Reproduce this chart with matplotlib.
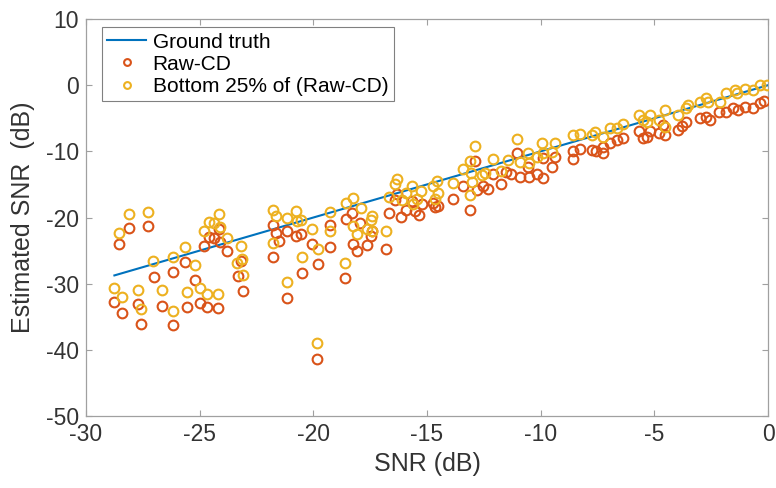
import matplotlib
matplotlib.use("Agg")
import matplotlib.pyplot as plt

# Ground truth line endpoints (y = x)
truth_snr = [-28.75, 0.0]
truth_est = [-28.75, 0.0]

# Raw-CD estimates
raw_snr = [
    -28.55, -28.1, -27.26, -27.0, -26.16, -25.64, -25.2, -24.8, -24.57, -24.37,
    -24.13, -24.1, -23.81, -23.3, -23.08, -23.2, -28.77, -28.43, -27.7, -27.6,
    -26.67, -26.16, -25.54, -24.98, -24.66, -24.18,
    -21.79, -21.64, -21.5, -21.17, -20.76, -20.55, -21.79, -20.07, -19.78, -20.51,
    -21.17, -19.82, -19.27, -19.27, -18.58, -18.31, -17.95, -18.27, -18.06, -18.6,
    -17.43, -17.46, -17.63, -16.82, -16.66, -16.41, -16.3, -16.16, -15.92, -15.67,
    -15.53, -15.34, -15.23, -14.75, -14.65, -14.5, -13.87,
    -12.89, -13.4, -13.1, -12.78, -12.55, -12.3, -12.08, -11.76, -11.52, -11.32,
    -11.03, -10.91, -10.5, -10.54, -10.15, -9.88, -9.91, -9.51, -9.37, -8.59,
    -8.56, -8.27, -7.75, -7.56, -7.27,
    -7.24, -6.95, -6.65, -6.39, -5.66, -5.48, -5.31, -5.19, -4.78, -4.53,
    -4.6, -3.94, -3.79, -3.6, -2.99, -2.72, -2.55, -2.14, -1.84, -1.52,
    -1.3, -1.01, -0.67, -0.35, -0.17,
]
raw_est = [
    -24.05, -21.6, -21.3, -29.0, -28.3, -26.7, -29.4, -24.3, -22.9, -23.1,
    -21.8, -23.65, -25.0, -28.8, -31.06, -26.6, -32.7, -34.5, -33.0, -36.1,
    -33.3, -36.3, -33.5, -32.9, -33.5, -33.7,
    -21.1, -22.3, -23.5, -22.1, -22.8, -22.5, -25.9, -24.0, -27.0, -28.4,
    -32.1, -41.4, -21.1, -24.5, -20.2, -19.3, -20.9, -24.0, -25.0, -29.2,
    -22.0, -22.8, -24.2, -24.8, -19.3, -17.35, -16.5, -19.9, -18.87, -17.5,
    -18.97, -19.6, -17.96, -17.76, -18.36, -18.26, -17.25,
    -11.4, -15.2, -18.8, -15.8, -15.2, -15.7, -13.4, -14.9, -13.1, -13.4,
    -10.3, -13.8, -13.9, -12.4, -13.4, -14.1, -11.05, -12.3, -10.9, -11.2,
    -9.9, -9.7, -9.8, -9.9, -10.3,
    -9.3, -8.7, -8.3, -8.0, -6.9, -8.0, -7.8, -6.9, -7.3, -7.5,
    -6.0, -6.8, -6.2, -5.5, -5.0, -4.8, -5.3, -4.0, -4.0, -3.5,
    -3.75, -3.25, -3.5, -2.75, -2.4,
]

# Bottom 25% of (Raw-CD) estimates
bot_snr = [
    -28.1, -27.26, -28.55, -27.04, -26.16, -25.64, -25.2, -28.77, -28.43, -27.7,
    -27.6, -26.67, -26.16, -25.54, -24.98, -24.66, -24.18, -24.8, -24.57, -24.37,
    -24.13, -24.1, -23.81, -23.37, -23.15, -23.2, -23.08,
    -21.76, -21.64, -21.17, -20.76, -20.55, -20.73, -21.79, -20.07, -19.78, -20.51,
    -21.14, -19.82, -19.27, -19.27, -18.58, -18.27, -17.92, -18.24, -18.06, -18.6,
    -17.43, -17.48, -17.63, -17.43, -16.82, -16.66, -16.41, -16.3, -16.11, -15.92,
    -15.67, -15.45, -15.28, -15.6, -14.72, -14.57, -14.5, -13.87, -14.65,
    -12.89, -13.1, -13.4, -13.08, -13.03, -13.1, -12.59, -12.45, -12.08, -11.76,
    -11.42, -11.03, -10.91, -10.54, -10.5, -10.17, -9.95, -9.88, -9.51, -9.37,
    -8.56, -8.27, -7.75, -7.61,
    -7.27, -6.95, -6.65, -6.39, -5.66, -5.48, -5.31, -5.19, -4.78, -4.53,
    -4.53, -3.94, -3.6, -3.5, -2.99, -2.72, -2.62, -2.11, -1.84, -1.45,
    -1.35, -1.01, -0.67, -0.35, -0.05,
]
bot_est = [
    -19.4, -19.1, -22.3, -26.6, -25.9, -24.4, -27.1, -30.6, -32.0, -30.9,
    -33.9, -31.0, -34.1, -31.2, -30.6, -31.5, -31.6, -22.1, -20.7, -20.9,
    -19.5, -21.5, -23.1, -26.8, -26.3, -24.3, -28.7,
    -18.87, -19.8, -20.1, -18.97, -20.3, -20.6, -23.9, -21.8, -24.8, -25.9,
    -29.7, -38.9, -19.1, -22.1, -17.86, -17.1, -18.5, -21.3, -22.5, -26.8,
    -19.8, -20.4, -21.8, -22.0, -22.1, -16.85, -14.98, -14.2, -17.35, -16.35,
    -15.3, -17.25, -15.95, -17.9, -15.3, -14.5, -16.35, -14.8, -17.25,
    -9.2, -11.4, -12.7, -13.2, -14.6, -16.6, -13.6, -13.2, -11.2, -12.9,
    -11.3, -8.2, -11.6, -10.2, -11.7, -10.9, -8.7, -10.3, -10.05, -8.7,
    -7.5, -7.4, -7.5, -7.0,
    -7.8, -6.4, -6.4, -5.8, -4.5, -5.3, -5.5, -4.5, -5.3, -6.3,
    -3.75, -4.5, -3.5, -3.0, -2.5, -2.0, -2.5, -2.5, -1.2, -0.7,
    -1.2, -0.5, -0.7, 0.0, 0.1,
]

xticks = [-30, -25, -20, -15, -10, -5, 0]
yticks = [-50, -40, -30, -20, -10, 0, 10]

plt.rcParams["font.family"] = ["Liberation Sans", "DejaVu Sans"]
plt.rcParams["axes.unicode_minus"] = False

fig = plt.figure(figsize=(7.76, 4.88), dpi=100)
ax = fig.add_axes([0.1108, 0.1475, 0.8789, 0.8135])

ax.plot(truth_snr, truth_est, color="#0072BD", lw=1.5, label="Ground truth", zorder=2)
ax.plot(raw_snr, raw_est, ls="none", marker="o", ms=7, mfc="none", mec="#D95319",
        mew=1.5, label="Raw-CD", zorder=3)
ax.plot(bot_snr, bot_est, ls="none", marker="o", ms=7, mfc="none", mec="#EDB120",
        mew=1.5, label="Bottom 25% of (Raw-CD)", zorder=4)

ax.set_xlim(-30, 0)
ax.set_ylim(-50, 10)
ax.set_xticks(xticks)
ax.set_yticks(yticks)
ax.tick_params(direction="in", length=4.5, width=0.8, color="#a0a0a0",
               labelcolor="#333333", labelsize=16.5, top=True, right=True, pad=5)
for s in ax.spines.values():
    s.set_color("#a0a0a0")
    s.set_linewidth(0.9)

ax.set_xlabel("SNR (dB)", fontsize=18, color="#333333", labelpad=4)
ax.set_ylabel("Estimated SNR  (dB)", fontsize=18, color="#333333", labelpad=8)

leg = ax.legend(loc="upper left", bbox_to_anchor=(0.023, 0.979), borderaxespad=0,
                fontsize=15, frameon=True, fancybox=False, framealpha=1,
                handlelength=1.9, handletextpad=0.3, borderpad=0.25,
                labelspacing=0.15, markerscale=0.7)
leg.get_frame().set_edgecolor("#808080")
leg.get_frame().set_linewidth(0.8)

fig.savefig("out.png", dpi=100)
